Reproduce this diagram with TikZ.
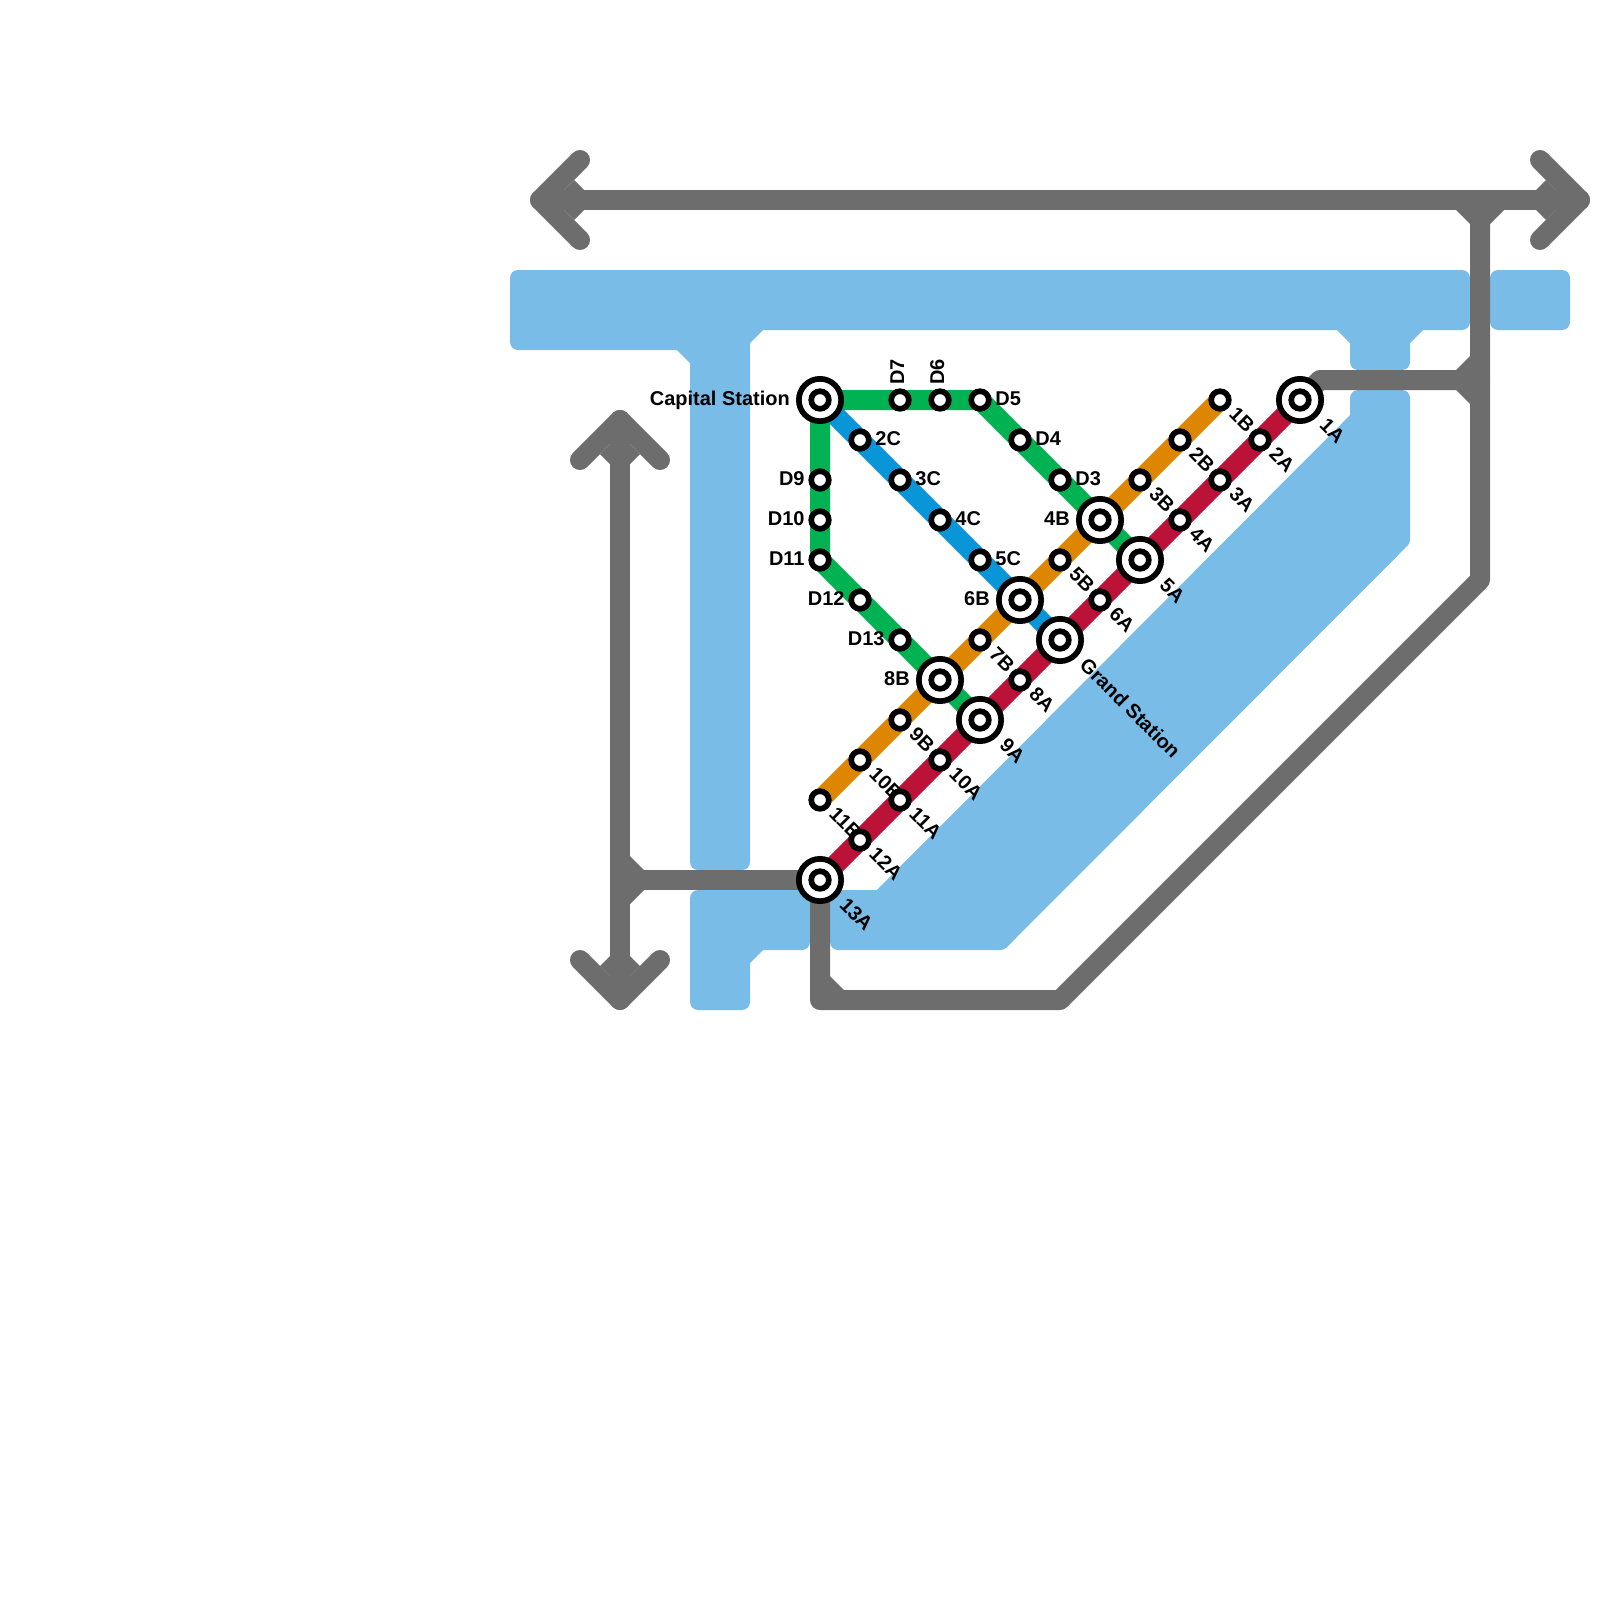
\documentclass[tikz,border=0pt]{standalone}
\usepackage{fontspec}
\setmainfont{Liberation Sans}
\usetikzlibrary{calc, positioning}

\definecolor{waterblue}{HTML}{7ABCE8}
\definecolor{trackgray}{HTML}{6D6D6D}
\definecolor{linegreen}{HTML}{00B251}
\definecolor{lineblue}{HTML}{0996D8}
\definecolor{lineorange}{HTML}{DE8600}
\definecolor{linered}{HTML}{BC1238}

\pgfdeclarelayer{tracks}
\pgfdeclarelayer{labels}
\pgfsetlayers{tracks,labels,main}

\tikzset{
    water/.style={fill=waterblue},
    track/.style={draw=trackgray, line width=.5cm, line cap=round, line join=round},
    fillet/.style={fill=trackgray},
    metro/.style={line width=.5cm, line join=round},
    stop/.style={circle, draw=black, fill=white, line width=.142cm, minimum size=.44cm, inner sep=0pt},
    hub/.style={circle, draw=black, fill=white, line width=.142cm, minimum size=1.058cm, inner sep=0pt,
        path picture={\draw[black, line width=.142cm] (path picture bounding box.center) circle (.22cm);}},
    lbl/.style={font=\bfseries\fontsize{14.2}{14.2}\selectfont, text=black, inner sep=0pt},
    lblright/.style={lbl, anchor=base west, xshift=.38cm, yshift=-.13cm},
    lblleft/.style={lbl, anchor=base east, xshift=-.38cm, yshift=-.13cm},
    lblhub/.style={lbl, anchor=base east, xshift=-.75cm, yshift=-.13cm},
    lblup/.style={lbl, anchor=base west, xshift=.1cm, yshift=.38cm, rotate=90},
    lbldiag/.style={lbl, anchor=base west, xshift=.2cm, yshift=-.39cm, rotate=-45},
    lbldiaghub/.style={lbl, anchor=base west, xshift=.46cm, yshift=-.65cm, rotate=-45}
}

\begin{document}
\begin{tikzpicture}[x=1cm, y=-1cm]
    \useasboundingbox (0,0) rectangle (40,40);

    % Stations
    \node[hub] (sCapital) at (20.5,10) {};
    \node[stop] (sD7) at (22.5,10) {};
    \node[stop] (sD6) at (23.5,10) {};
    \node[stop] (sD5) at (24.5,10) {};
    \node[stop] (sD4) at (25.5,11) {};
    \node[stop] (sD3) at (26.5,12) {};
    \node[stop] (sD9) at (20.5,12) {};
    \node[stop] (sD10) at (20.5,13) {};
    \node[stop] (sD11) at (20.5,14) {};
    \node[stop] (sD12) at (21.5,15) {};
    \node[stop] (sD13) at (22.5,16) {};
    \node[stop] (s2C) at (21.5,11) {};
    \node[stop] (s3C) at (22.5,12) {};
    \node[stop] (s4C) at (23.5,13) {};
    \node[stop] (s5C) at (24.5,14) {};
    \node[stop] (s1B) at (30.5,10) {};
    \node[stop] (s2B) at (29.5,11) {};
    \node[stop] (s3B) at (28.5,12) {};
    \node[hub] (s4B) at (27.5,13) {};
    \node[stop] (s5B) at (26.5,14) {};
    \node[hub] (s6B) at (25.5,15) {};
    \node[stop] (s7B) at (24.5,16) {};
    \node[hub] (s8B) at (23.5,17) {};
    \node[stop] (s9B) at (22.5,18) {};
    \node[stop] (s10B) at (21.5,19) {};
    \node[stop] (s11B) at (20.5,20) {};
    \node[hub] (s1A) at (32.5,10) {};
    \node[stop] (s2A) at (31.5,11) {};
    \node[stop] (s3A) at (30.5,12) {};
    \node[stop] (s4A) at (29.5,13) {};
    \node[hub] (s5A) at (28.5,14) {};
    \node[stop] (s6A) at (27.5,15) {};
    \node[hub] (sGrand) at (26.5,16) {};
    \node[stop] (s8A) at (25.5,17) {};
    \node[hub] (s9A) at (24.5,18) {};
    \node[stop] (s10A) at (23.5,19) {};
    \node[stop] (s11A) at (22.5,20) {};
    \node[stop] (s12A) at (21.5,21) {};
    \node[hub] (s13A) at (20.5,22) {};

    % Free ends of the gray tracks
    \coordinate (tipW) at (13.5,5);
    \coordinate (tipE) at (39.5,5);
    \coordinate (tipN) at (15.5,10.5);
    \coordinate (tipS) at (15.5,25);
    \coordinate (joinTop) at (37,5);
    \coordinate (joinRight) at (37,9.5);
    \coordinate (joinLeft) at (15.5,22);
    \coordinate (bend1A) at (33,9.5);
    \coordinate (bendE) at (37,14.5);
    \coordinate (bendSE) at (26.5,25);
    \coordinate (bendSW) at (20.5,25);

    \begin{pgfonlayer}{tracks}
        % Water
        \fill[water] (16.92,8.75) [rounded corners=.2cm] -- (12.75,8.75) -- (12.75,6.75) -- (36.75,6.75) -- (36.75,8.25) [sharp corners] -- (35.58,8.25) -- (35.25,8.58) [rounded corners=.2cm] -- (35.25,9.25) -- (33.75,9.25) [sharp corners] -- (33.75,8.58) -- (33.42,8.25) -- (19.08,8.25) -- (18.75,8.58) [rounded corners=.2cm] -- (18.75,21.75) -- (17.25,21.75) [sharp corners] -- (17.25,9.08) -- cycle;
        \fill[water, rounded corners=.2cm] (37.25,6.75) rectangle (39.25,8.25);
        \fill[water] (33.75,10.38) [rounded corners=.2cm] -- (33.75,9.75) -- (35.25,9.75) [rounded corners=.08cm] -- (35.25,13.58) -- (25.1,23.75) [rounded corners=.2cm] -- (20.75,23.75) [sharp corners] -- (20.75,22.25) -- (21.92,22.25) -- cycle;
        \fill[water] (19.08,23.75) [rounded corners=.2cm] -- (20.25,23.75) -- (20.25,22.25) -- (17.25,22.25) -- (17.25,25.25) -- (18.75,25.25) [sharp corners] -- (18.75,24.08) -- cycle;

        % Gray tracks
        \draw[track] (tipW) -- (tipE);
        \draw[track] (tipN) -- (tipS);
        \draw[track] (14.5,4) -- (tipW) -- (14.5,6);
        \draw[track] (38.5,4) -- (tipE) -- (38.5,6);
        \draw[track] (14.5,11.5) -- (tipN) -- (16.5,11.5);
        \draw[track] (14.5,24) -- (tipS) -- (16.5,24);
        \draw[track] (joinTop) -- (bendE) -- (bendSE) -- (bendSW) -- (s13A.center);
        \draw[track] (s1A.center) -- (bend1A) -- (joinRight);
        \draw[track] (s13A.center) -- (joinLeft);

        % Fillets at the junctions
        \fill[fillet] (36.4,5.25) -- (36.75,5.6) -- (37.25,5.6) -- (37.6,5.25) -- cycle;
        \fill[fillet] (36.75,8.9) -- (36.4,9.25) -- (36.4,9.75) -- (36.75,10.1) -- cycle;
        \fill[fillet] (15.75,21.4) -- (16.1,21.75) -- (16.1,22.25) -- (15.75,22.6) -- cycle;
        \fill[fillet] (20.75,24.4) -- (21.1,24.75) -- (20.75,24.75) -- cycle;
        \fill[fillet] (14.1,4.75) -- (14.35,4.5) -- (14.6,4.75) -- cycle;
        \fill[fillet] (14.1,5.25) -- (14.35,5.5) -- (14.6,5.25) -- cycle;
        \fill[fillet] (38.9,4.75) -- (38.65,4.5) -- (38.4,4.75) -- cycle;
        \fill[fillet] (38.9,5.25) -- (38.65,5.5) -- (38.4,5.25) -- cycle;
        \fill[fillet] (15.25,11.1) -- (15,11.35) -- (15.25,11.6) -- cycle;
        \fill[fillet] (15.75,11.1) -- (16,11.35) -- (15.75,11.6) -- cycle;
        \fill[fillet] (15.25,24.4) -- (15,24.15) -- (15.25,23.9) -- cycle;
        \fill[fillet] (15.75,24.4) -- (16,24.15) -- (15.75,23.9) -- cycle;

        % Metro lines
        \draw[metro, linegreen] (sCapital.center) -- (sD7.center) -- (sD6.center) -- (sD5.center) -- (sD4.center) -- (sD3.center) -- (s4B.center) -- (s5A.center);
        \draw[metro, linegreen] (sCapital.center) -- (sD9.center) -- (sD10.center) -- (sD11.center) -- (sD12.center) -- (sD13.center) -- (s8B.center) -- (s9A.center);
        \draw[metro, lineblue] (sCapital.center) -- (s2C.center) -- (s3C.center) -- (s4C.center) -- (s5C.center) -- (s6B.center) -- (sGrand.center);
        \draw[metro, lineorange] (s1B.center) -- (s2B.center) -- (s3B.center) -- (s4B.center) -- (s5B.center) -- (s6B.center) -- (s7B.center) -- (s8B.center) -- (s9B.center) -- (s10B.center) -- (s11B.center);
        \draw[metro, linered] (s1A.center) -- (s2A.center) -- (s3A.center) -- (s4A.center) -- (s5A.center) -- (s6A.center) -- (sGrand.center) -- (s8A.center) -- (s9A.center) -- (s10A.center) -- (s11A.center) -- (s12A.center) -- (s13A.center);
    \end{pgfonlayer}

    \begin{pgfonlayer}{labels}
        % Labels of the green and blue lines
        \node[lblhub] (tCapital) at (sCapital) {Capital Station};
        \node[lblup] (tD7) at (sD7) {D7};
        \node[lblup] (tD6) at (sD6) {D6};
        \node[lblright] (tD5) at (sD5) {D5};
        \node[lblright] (tD4) at (sD4) {D4};
        \node[lblright] (tD3) at (sD3) {D3};
        \node[lblleft] (tD9) at (sD9) {D9};
        \node[lblleft] (tD10) at (sD10) {D10};
        \node[lblleft] (tD11) at (sD11) {D11};
        \node[lblleft] (tD12) at (sD12) {D12};
        \node[lblleft] (tD13) at (sD13) {D13};
        \node[lblright] (t2C) at (s2C) {2C};
        \node[lblright] (t3C) at (s3C) {3C};
        \node[lblright] (t4C) at (s4C) {4C};
        \node[lblright] (t5C) at (s5C) {5C};

        % Labels of the orange line
        \node[lbldiag] (t1B) at (s1B) {1B};
        \node[lbldiag] (t2B) at (s2B) {2B};
        \node[lbldiag] (t3B) at (s3B) {3B};
        \node[lblhub] (t4B) at (s4B) {4B};
        \node[lbldiag] (t5B) at (s5B) {5B};
        \node[lblhub] (t6B) at (s6B) {6B};
        \node[lbldiag] (t7B) at (s7B) {7B};
        \node[lblhub] (t8B) at (s8B) {8B};
        \node[lbldiag] (t9B) at (s9B) {9B};
        \node[lbldiag] (t10B) at (s10B) {10B};
        \node[lbldiag] (t11B) at (s11B) {11B};

        % Labels of the red line
        \node[lbldiaghub] (t1A) at (s1A) {1A};
        \node[lbldiag] (t2A) at (s2A) {2A};
        \node[lbldiag] (t3A) at (s3A) {3A};
        \node[lbldiag] (t4A) at (s4A) {4A};
        \node[lbldiaghub] (t5A) at (s5A) {5A};
        \node[lbldiag] (t6A) at (s6A) {6A};
        \node[lbldiaghub] (tGrand) at (sGrand) {Grand Station};
        \node[lbldiag] (t8A) at (s8A) {8A};
        \node[lbldiaghub] (t9A) at (s9A) {9A};
        \node[lbldiag] (t10A) at (s10A) {10A};
        \node[lbldiag] (t11A) at (s11A) {11A};
        \node[lbldiag] (t12A) at (s12A) {12A};
        \node[lbldiaghub] (t13A) at (s13A) {13A};
    \end{pgfonlayer}
\end{tikzpicture}
\end{document}
